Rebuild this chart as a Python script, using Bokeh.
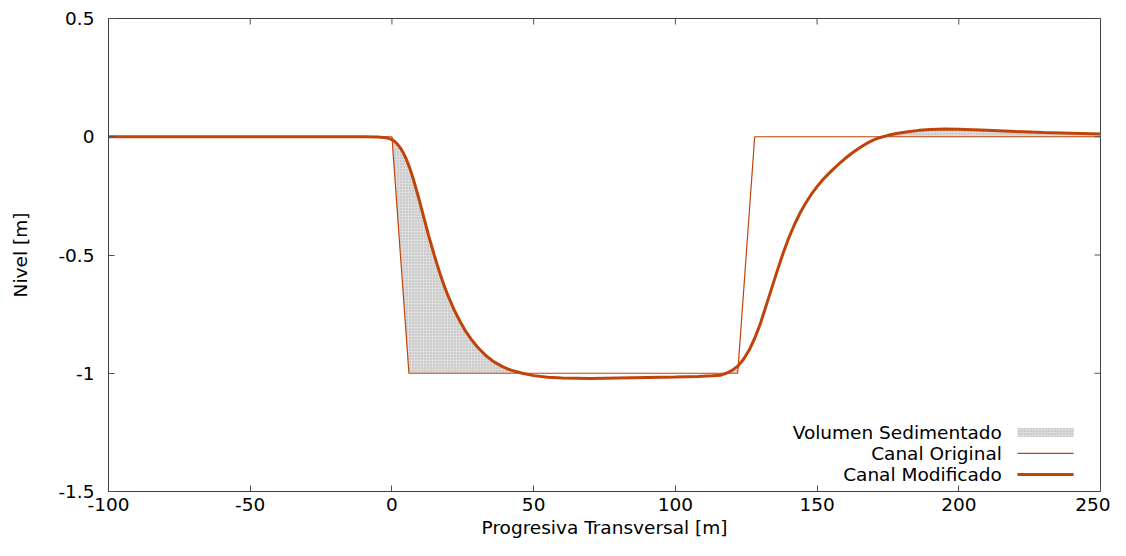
import numpy as np
from bokeh.plotting import figure
from bokeh.models import FixedTicker, Label, Range1d
from bokeh.embed import file_html
from bokeh.resources import INLINE

# ---- data ----
orig_x = [-100, 0, 6, 122, 128, 250]
orig_y = [0, 0, -1, -1, 0, 0]

mod_x = [-100, -10, -5, -2, 0, 1, 2, 3, 4, 5, 6, 7, 8, 9, 10, 11, 12, 13, 14, 15,
         16, 17, 18, 19, 20, 22, 24, 26, 28, 30, 33, 36, 39, 42, 46, 50, 55, 60, 70,
         80, 90, 100, 108, 113, 116, 118, 120, 122, 124, 126, 128, 130, 132, 134, 136,
         138, 140, 142, 144, 146, 148, 150, 152, 154, 156, 158, 160, 162, 164, 166,
         168, 170, 172, 175, 178, 182, 186, 190, 195, 200, 210, 220, 230, 240, 250]
mod_y = [0, 0, -0.001, -0.004, -0.012, -0.02, -0.032, -0.048, -0.068, -0.093, -0.123,
         -0.158, -0.198, -0.24, -0.284, -0.33, -0.375, -0.42, -0.462, -0.503, -0.542,
         -0.58, -0.615, -0.648, -0.678, -0.733, -0.78, -0.822, -0.857, -0.887, -0.924,
         -0.952, -0.972, -0.987, -1.0, -1.01, -1.017, -1.02, -1.022, -1.02, -1.018,
         -1.016, -1.014, -1.011, -1.008, -1.0, -0.988, -0.97, -0.942, -0.903, -0.852,
         -0.79, -0.715, -0.64, -0.565, -0.493, -0.428, -0.372, -0.322, -0.28, -0.243,
         -0.211, -0.182, -0.157, -0.134, -0.112, -0.091, -0.072, -0.055, -0.039, -0.025,
         -0.013, -0.004, 0.006, 0.014, 0.021, 0.027, 0.031, 0.033, 0.032, 0.027, 0.022,
         0.018, 0.015, 0.012]

x_ticks = [-100, -50, 0, 50, 100, 150, 200, 250]
x_tick_labels = ["-100", "-50", "0", "50", "100", "150", "200", "250"]
y_ticks = [0.5, 0, -0.5, -1, -1.5]
y_tick_labels = ["0.5", "0", "-0.5", "-1", "-1.5"]

legend_labels = ["Volumen Sedimentado", "Canal Original", "Canal Modificado"]

# ---- styling ----
LINE_COLOR = "#c0440a"
FILL = "#dcdcdc"
HATCH = "#b2b2b2"
FONT = "DejaVu Sans"
FS = "18.5px"
X0, X1, Y0, Y1 = -100, 250, -1.5, 0.5

p = figure(frame_width=992, frame_height=473, output_backend="svg",
           toolbar_location=None, x_range=Range1d(X0, X1), y_range=Range1d(Y0, Y1),
           min_border_left=108, min_border_right=10, min_border_top=18, min_border_bottom=49)
p.xgrid.visible = False
p.ygrid.visible = False
p.outline_line_color = "#404040"
p.outline_line_width = 1
p.background_fill_color = "white"
p.border_fill_color = "white"

# fill where modified is above original
fx = np.unique(np.concatenate([np.array(mod_x, float), np.array(orig_x, float)]))
fm = np.interp(fx, mod_x, mod_y)
fo = np.interp(fx, orig_x, orig_y)
p.varea(x=fx, y1=fo, y2=np.maximum(fm, fo), fill_color=FILL,
        hatch_pattern="dot", hatch_color=HATCH, hatch_scale=3, hatch_weight=1)

p.line(orig_x, orig_y, line_color=LINE_COLOR, line_width=1.2)
p.line(mod_x, mod_y, line_color=LINE_COLOR, line_width=3)

# mirrored inward ticks on top and right edges
p.scatter(x=x_ticks, y=[Y1] * len(x_ticks), marker="dash", angle=np.pi / 2, size=12,
          line_color="#505050", line_width=1)
p.scatter(x=[X1] * len(y_ticks), y=y_ticks, marker="dash", size=12,
          line_color="#505050", line_width=1)

def style_axis(ax):
    ax.major_tick_in = 6
    ax.major_tick_out = 0
    ax.minor_tick_in = 0
    ax.minor_tick_out = 0
    ax.axis_line_color = "#404040"
    ax.major_tick_line_color = "#505050"
    ax.major_label_text_font = FONT
    ax.major_label_text_color = "black"
    ax.major_label_text_font_size = FS
    ax.axis_label_text_font = FONT
    ax.axis_label_text_font_size = FS
    ax.axis_label_text_font_style = "normal"
    ax.axis_label_text_color = "black"

xa = p.xaxis[0]
xa.ticker = FixedTicker(ticks=x_ticks)
xa.major_label_overrides = dict(zip(x_ticks, x_tick_labels))
style_axis(xa)
xa.major_label_standoff = 6
xa.axis_label = "Progresiva Transversal [m]"
xa.axis_label_standoff = 3

ya = p.yaxis[0]
ya.ticker = FixedTicker(ticks=y_ticks)
ya.major_label_overrides = dict(zip(y_ticks, y_tick_labels))
style_axis(ya)
ya.major_label_standoff = 14
ya.axis_label = "Nivel [m]"
ya.axis_label_standoff = 24

# manual legend (sample to the right of text, as in the reference)
leg_y = [-1.2505, -1.339, -1.428]
txt_x = 215.2
s_x0, s_x1 = 220.7, 240.5
for lab, yy in zip(legend_labels, leg_y):
    p.add_layout(Label(x=txt_x, y=yy, text=lab, text_align="right", text_baseline="middle",
                       text_font=FONT, text_font_size=FS, text_color="black"))
p.quad(left=[s_x0], right=[s_x1], bottom=[leg_y[0] - 0.019], top=[leg_y[0] + 0.019],
       fill_color=FILL, line_color=None,
       hatch_pattern="dot", hatch_color=HATCH, hatch_scale=3, hatch_weight=1)
p.segment(x0=[s_x0], y0=[leg_y[1]], x1=[s_x1], y1=[leg_y[1]], line_color=LINE_COLOR, line_width=1.2)
p.segment(x0=[s_x0], y0=[leg_y[2]], x1=[s_x1], y1=[leg_y[2]], line_color=LINE_COLOR, line_width=3)

open("out.html", "w").write(file_html(p, INLINE))
